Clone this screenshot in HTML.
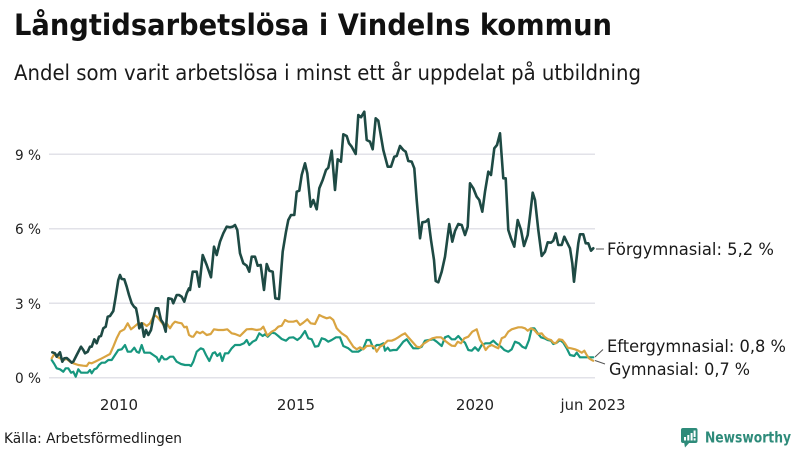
<!DOCTYPE html>
<html>
<head>
<meta charset="utf-8">
<style>
  html, body { margin: 0; padding: 0; background: #ffffff; }
  body { width: 800px; height: 450px; overflow: hidden; }
  svg { display: block; font-family: "DejaVu Sans", "Liberation Sans", sans-serif; }
</style>
</head>
<body>
<svg width="800" height="450" viewBox="0 0 800 450" xmlns="http://www.w3.org/2000/svg">
  <rect x="0" y="0" width="800" height="450" fill="#ffffff"/>

  <!-- Title & subtitle -->
  <text x="14" y="35" font-size="29" font-weight="bold" fill="#111111" textLength="598" lengthAdjust="spacingAndGlyphs">Långtidsarbetslösa i Vindelns kommun</text>
  <text x="14" y="80" font-size="21" fill="#1a1a1a" textLength="627" lengthAdjust="spacingAndGlyphs">Andel som varit arbetslösa i minst ett år uppdelat på utbildning</text>

  <!-- Gridlines -->
  <g stroke="#e2e2e8" stroke-width="1.5">
    <line x1="49" y1="154.3" x2="595" y2="154.3"/>
    <line x1="49" y1="228.7" x2="595" y2="228.7"/>
    <line x1="49" y1="303.3" x2="595" y2="303.3"/>
    <line x1="49" y1="377.7" x2="595" y2="377.7"/>
  </g>

  <!-- Y labels -->
  <g font-size="14.5" fill="#222222" text-anchor="end">
    <text x="41" y="160" textLength="26" lengthAdjust="spacingAndGlyphs">9 %</text>
    <text x="41" y="234" textLength="26" lengthAdjust="spacingAndGlyphs">6 %</text>
    <text x="41" y="309" textLength="26" lengthAdjust="spacingAndGlyphs">3 %</text>
    <text x="41" y="383" textLength="26" lengthAdjust="spacingAndGlyphs">0 %</text>
  </g>

  <!-- X labels -->
  <g font-size="15" fill="#222222" text-anchor="middle">
    <text x="119" y="410">2010</text>
    <text x="296" y="410">2015</text>
    <text x="475" y="410">2020</text>
    <text x="593" y="410" textLength="65" lengthAdjust="spacingAndGlyphs">jun 2023</text>
  </g>

  <!-- Teal (Eftergymnasial) -->
  <polyline fill="none" stroke="#17977f" stroke-width="2.2" stroke-linejoin="round" stroke-linecap="round"
    points="51.7,360 54.3,364 56.7,368.3 60,369.3 63.3,371.7 65.7,368.3 68.3,368.3 71,372.7 73.3,371.7 75.7,376.7 78.3,369.3 81,372.7 84.3,372.7 87.7,372.7 90,370 91.7,373.3 94.3,369.3 96.7,368.3 99,365 101.7,362.7 105,362.7 108.3,360 111.7,360 115,355 118.3,350 121.7,349.3 125,345 127.7,351.7 131,351.7 134.3,347.7 136.7,351.7 139,352.7 141.7,345 144.3,352.7 146.7,352.7 150,352.7 153.3,355 156.7,357.3 159,361.7 161.7,356 164.3,359.3 166.7,359.3 170,356.7 173.3,356.7 176.7,361.7 181,364 185,365 189.3,365 191,366 193.3,361.7 196.7,351.7 200.7,348.3 203.3,349.3 206,355 209.3,361 212.7,353.3 215,352.3 217.3,356 220,353.3 222.3,361 225,353.3 228.3,353.3 231.7,348.3 235,345 240,345 244,343.3 246.7,340 249.3,345 252.7,341.7 256,340 259.3,333.3 262.7,336 265,334.3 267.7,336.7 271.7,332.7 275,333.3 278.3,336 281.7,339 286,340.7 289.3,337.7 293.3,337.3 297.3,340 300.7,337.3 305,331 308.3,338.3 311.7,339.3 315,346.7 318.3,346 321.7,338.3 325,339.3 328.3,341.7 331.7,340 336,337.3 340,337.3 343.3,346 348.3,348.3 352.3,351.7 358.3,351.7 363.3,348.3 366.7,340 370,340 373.3,348.3 376.7,345 380,345 383.3,343.3 385,350.7 387.7,347.7 390,350.7 393.3,350 396.7,350 400,346 403.3,341.7 406.7,339.3 410,344 413.3,348.3 418.3,348.3 421.7,346.7 425,340.7 429,340 433.3,339.3 436.7,341.7 441.7,346 445,337.3 448.3,336 451.7,339.3 455,339.3 458.3,336 461.7,340 465,342.7 468.3,350 471.7,350.7 475,347.3 478.3,350.7 481.7,345 485.7,343.3 490,343.3 493.3,340.7 496.7,344 501,346.7 504.3,350 508.3,351.7 511.7,349.3 515,341.7 519,343.3 522.3,346.7 525.7,348.3 529,340 531.7,328.3 534.3,328.3 537.7,333.3 541,337.3 544.3,338.3 547.7,340 551,340.7 553.3,344 556.7,342.7 560,340 563.3,342.7 566.7,348.3 570,355 574.3,356 576.7,352.7 580,357.3 584.3,357.3 588.3,357.3 593.3,357.3"/>

  <!-- Gold (Gymnasial) -->
  <polyline fill="none" stroke="#d9a441" stroke-width="2.2" stroke-linejoin="round" stroke-linecap="round"
    points="51.7,358.3 54.3,354 56.7,356.7 60,358.3 63.3,360 66.7,359 70,361.7 73.3,363.3 78.3,365 83.3,365.7 86.7,366 89,362.7 91.7,363.3 95,361.7 100,359.3 105,356.7 110,354 113.3,346.7 116.7,338.3 120,331.7 124.3,329.3 127.7,323.3 131,329.3 134.3,326.7 138.3,323.3 143.3,323.3 146.7,326 150,323.3 154.3,315 157.7,317.3 161,321.7 164,325.7 166.7,323.3 170,328.3 172.7,324 175,321.7 178.3,322.7 181.7,323.3 184.3,327.3 186.7,326.7 189,335 191.7,336.7 193.3,336.7 196.7,331.7 200,333.3 202.7,331.7 206.7,335 210.7,334 214,329.3 218.3,330 223.3,330 227.3,329.3 231.7,333.3 235,334 240,336 243.3,332.7 246.7,329.3 251.7,329 256.7,330 260.7,329.3 263.3,326.7 267.3,335.7 271.7,331.7 275,330 278.3,326.7 281.7,325.7 285,320 288.3,321.7 293.3,321.7 296.7,320.7 300,325 303.3,322.7 307.3,319.3 310.7,323.3 315,324 319.3,315 322.7,316.7 326.7,318.3 330,317.3 333.3,320 336.7,328.3 338.3,330 341.7,333.3 346.7,336.7 350,341.7 353.3,346.7 356.7,349.3 360,347.3 363.3,349.3 366.7,346 371,345.7 374.3,346.7 376.7,351.7 380,346.7 383.3,345 387.7,340.7 391.7,340.7 395,339.3 398.3,337.3 401.7,335 405,333.3 408.3,337.3 412.3,341.7 416.7,346.7 420,347.3 423.3,344 428.3,340.7 432.3,338.3 436.7,337.3 441,337.3 445,340.7 448.3,343.3 451.7,345.7 455,346 457.7,341.7 461,343.3 464.3,338.3 468.3,336.7 472.3,331.7 476.7,329.3 480,340 483.3,345 485.7,350 488.3,346.7 491.7,345 495,346.7 498.3,348.3 501.7,338.3 505,336.7 508.3,331.7 511.7,329.3 515,328.3 518.3,327.3 521.7,327.3 525,328.3 527.7,330.7 531,328.3 534.3,330 537.7,334 541.7,333.3 544.3,336.7 547.7,339 551,340 553.3,342.7 555.7,343.3 559,339.3 562.3,340 565,343.3 567.7,347.7 571,348.3 575,349.3 578.3,350.7 581.7,352.7 584.3,350.7 586.7,355 589,358.3 591.7,360 593.3,360.7"/>

  <!-- Dark (Förgymnasial) -->
  <polyline fill="none" stroke="#1e4a44" stroke-width="2.6" stroke-linejoin="round" stroke-linecap="round"
    points="52.3,352.3 55,353.3 56.7,356.7 60,352.3 62.3,361.7 64.3,358.3 66.7,358 69,360 71.7,362.7 73.3,361.7 76.7,355 81,346.7 83.3,350 85,353.3 87.7,351.7 90,346.7 91.7,346.7 94.3,339.3 96.7,343.3 99,336.7 101,336 103.3,328.3 105.7,326.7 107.7,316.7 110,316 113.3,311 115.7,296.7 118.3,280 120,275 121.7,279 124.3,279.3 126.7,286.7 129,295 131.7,303.3 134,306.7 136,308.3 137.7,316.7 139.3,328.3 141.7,323.3 144,336.7 146,330 148.3,335 151,330 153.3,318.3 155.7,308.3 158.3,308.3 161,320 163.3,323.3 165.7,331.7 168.3,298.3 171.7,299 173.3,303.3 176.7,295 179,295 181.7,296.7 184.3,301.7 186.7,293.3 189,288.3 190,290 192.7,271.7 196.7,271.7 199.3,286.7 202.7,255 206.7,265 211,277.3 214,246.7 216.7,255 220,241.7 223.3,233.3 226.7,226.7 230,227.3 232.7,226.7 235,225 237.3,230 240,253.3 243.3,263.3 246.7,265.7 249.3,271.7 251.7,256.7 255,256.7 257.7,265.7 260.7,265 264,290 266.7,264 269.3,270.7 272.7,271.7 275.3,298.3 279,299 282.7,251.7 286,231.7 288.3,220 291,215 294.3,215 296.7,191.7 299.3,190.7 301.7,175 305,163.3 307.3,173.3 310.7,206.7 313.3,200 316.7,209.3 319.3,188.3 322.7,180 326,170 328.3,167.7 331.7,150.7 335,190 337.7,159.3 341,161.7 343.3,134.3 346.7,136 349,143.3 351.7,146.7 355.7,154 358.3,115 361,117.3 364.3,111.7 366.7,140 370,141.7 372.7,149.3 375.7,118.3 378.3,120.7 383.3,150 387.7,166.7 391,166.7 394.3,156.7 396.7,156 400,146 403.3,150 405.7,151.7 408.3,161 411.7,161.7 414.3,168.3 416.7,200 420,238.3 422.3,222.3 425.7,221.7 428.3,219.3 431,240 434,260 435.7,281 438.3,282.3 441.7,271.7 445,256.7 449.3,224 452.3,241.7 455,231 458.3,224 461.7,225 465,235 467.7,226.7 470,183.3 473.3,188.3 476.7,196.7 479.3,200 482.3,211.7 485,191.7 488.3,171.7 491,175 494.3,148.3 497,145 500,133.3 503.3,178.3 505.7,178.3 508.3,230 511,238.3 514.3,246.7 517.7,220 521,230 524,246 527.7,235 530.3,213.3 532.7,192.7 535,200 538.3,230 541.7,256 545,251.7 547.7,242.3 551,242.7 553.3,240.7 555.7,233.3 558.3,245 561.7,245 564.3,236.7 566.7,241.7 570,248.3 572.3,263.3 574,281.7 576,263.3 578.3,243.3 580,234.3 583.3,234.3 585.7,243.3 588.3,243.3 591,250.7 593.3,248.3"/>

  <!-- Leader lines -->
  <g stroke="#555555" stroke-width="1">
    <line x1="596" y1="249" x2="604" y2="249"/>
    <line x1="595" y1="357" x2="603" y2="349.5"/>
    <line x1="595" y1="360.5" x2="605" y2="364"/>
  </g>

  <!-- Series labels -->
  <g font-size="16.5" fill="#1a1a1a">
    <text x="607" y="255" textLength="167" lengthAdjust="spacingAndGlyphs">Förgymnasial: 5,2 %</text>
    <text x="607" y="352" textLength="179" lengthAdjust="spacingAndGlyphs">Eftergymnasial: 0,8 %</text>
    <text x="609" y="375" textLength="141" lengthAdjust="spacingAndGlyphs">Gymnasial: 0,7 %</text>
  </g>

  <!-- Source -->
  <text x="4" y="443" font-size="14" fill="#1a1a1a" textLength="178" lengthAdjust="spacingAndGlyphs">Källa: Arbetsförmedlingen</text>

  <!-- Newsworthy logo -->
  <g>
    <rect x="681" y="428" width="16.5" height="15" rx="2" fill="#2e8b7a"/>
    <polygon points="684,442 690,442 685,447.5" fill="#2e8b7a"/>
    <rect x="684" y="437" width="2" height="3.5" fill="#ffffff"/>
    <rect x="687.3" y="435" width="2" height="5.5" fill="#ffffff"/>
    <rect x="690.6" y="433" width="2" height="7.5" fill="#ffffff"/>
    <rect x="693.6" y="430.5" width="2" height="6.5" fill="#ffffff"/>
    <rect x="693.6" y="438.3" width="2" height="2.2" fill="#ffffff"/>
    <text x="705" y="442.5" font-size="15.5" font-weight="bold" fill="#2e8b7a" textLength="86" lengthAdjust="spacingAndGlyphs">Newsworthy</text>
  </g>
</svg>
</body>
</html>
